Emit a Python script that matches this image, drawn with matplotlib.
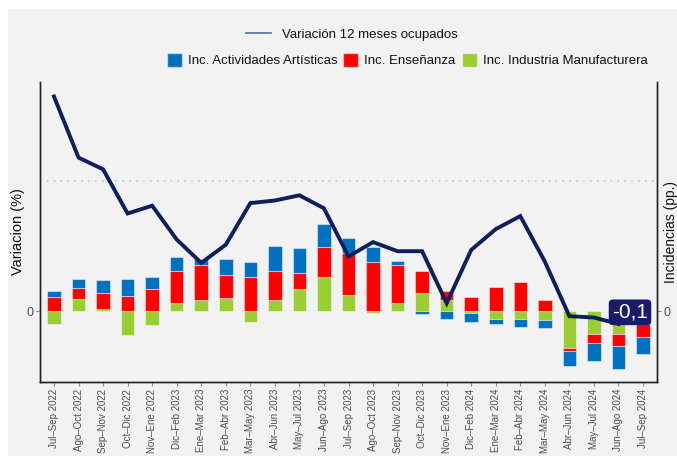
import numpy as np
import matplotlib
matplotlib.use("Agg")
import matplotlib.pyplot as plt
from matplotlib.patches import Patch, Rectangle
from matplotlib.lines import Line2D

plt.rcParams['font.family'] = ['Liberation Sans', 'DejaVu Sans']

categories = ["Jul–Sep 2022", "Ago–Oct 2022", "Sep–Nov 2022", "Oct–Dic 2022", "Nov–Ene 2022",
              "Dic–Feb 2023", "Ene–Mar 2023", "Feb–Abr 2023", "Mar–May 2023", "Abr–Jun 2023",
              "May–Jul 2023", "Jun–Ago 2023", "Jul–Sep 2023", "Ago–Oct 2023", "Sep–Nov 2023",
              "Oct–Dic 2023", "Nov–Ene 2023", "Dic–Feb 2024", "Ene–Mar 2024", "Feb–Abr 2024",
              "Mar–May 2024", "Abr–Jun 2024", "May–Jul 2024", "Jun–Ago 2024", "Jul–Sep 2024"]

# Variación 12 meses ocupados (%), last value -0,1 (Jun–Ago 2024)
variacion = [1.65, 1.18, 1.09, 0.75, 0.81, 0.55, 0.37, 0.51, 0.83, 0.85, 0.89, 0.79,
             0.42, 0.53, 0.46, 0.46, 0.06, 0.47, 0.63, 0.73, 0.38, -0.04, -0.05, -0.10]

# Incidencias (pp.)
inc_artisticas = [0.060, 0.083, 0.130, 0.163, 0.120, 0.143, 0.057, 0.157, 0.153, 0.250,
                  0.243, 0.227, 0.150, 0.150, 0.040, -0.033, -0.083, -0.087, -0.053, -0.073,
                  -0.077, -0.147, -0.183, -0.230, -0.177]
inc_ensenanza = [0.140, 0.117, 0.163, 0.153, 0.223, 0.320, 0.350, 0.227, 0.337, 0.283,
                 0.167, 0.303, 0.420, 0.490, 0.380, 0.220, 0.090, 0.140, 0.240, 0.290,
                 0.113, -0.033, -0.083, -0.120, -0.127]
inc_manufactura = [-0.127, 0.117, 0.017, -0.240, -0.140, 0.077, 0.110, 0.133, -0.107, 0.113,
                   0.217, 0.340, 0.157, -0.015, 0.080, 0.180, 0.110, -0.020, -0.080, -0.083,
                   -0.090, -0.367, -0.233, -0.230, -0.130]

reference_level = 1.0
label_text = "-0,1"

C_BLUE = "#0070c0"
C_RED = "#ff0000"
C_GREEN = "#9acd32"
C_LINE = "#0d1f5c"
BG = "#f2f2f2"

W, H = 677, 459
fig = plt.figure(figsize=(W / 100, H / 100), dpi=100, facecolor="white")
fig.patches.append(Rectangle((8 / W, 3 / H), 1 - 8 / W, 1 - 12 / H, transform=fig.transFigure,
                             facecolor=BG, edgecolor="none", zorder=0))

left, right, top, bottom = 40, 657, 82, 382
ax = fig.add_axes([left / W, 1 - bottom / H, (right - left) / W, (bottom - top) / H])
ax2 = ax.twinx()
ax.set_zorder(2)
ax2.set_zorder(1)
ax.patch.set_visible(False)
ax2.patch.set_facecolor(BG)

x = np.arange(len(categories))

# stacked bars (green nearest zero, then red, then blue) on right axis
series = [(inc_manufactura, C_GREEN), (inc_ensenanza, C_RED), (inc_artisticas, C_BLUE)]
pos_base = np.zeros(len(categories))
neg_base = np.zeros(len(categories))
for vals, col in series:
    v = np.array(vals)
    b = np.where(v >= 0, pos_base, neg_base)
    ax2.bar(x, v, bottom=b, width=0.55, color=col, edgecolor=(1, 1, 1, 0.45), linewidth=0.8, zorder=2)
    pos_base = pos_base + np.where(v >= 0, v, 0)
    neg_base = neg_base + np.where(v < 0, v, 0)

# line on left axis
ax.axhline(reference_level, color="#bdbdbd", linestyle=(0, (1, 3.5)), linewidth=1.1, zorder=1)
xl = np.arange(len(variacion))
ax.plot(xl, variacion, color=C_LINE, linewidth=2.8, solid_joinstyle="miter", zorder=3)
ax.text(xl[-1] + 0.47, variacion[-1] + 0.09, label_text, color="white", fontsize=15,
        ha="center", va="center", zorder=5,
        bbox=dict(boxstyle="round,pad=0.16,rounding_size=0.2", facecolor="#1a1a6b", edgecolor="none"))

# scales
ax.set_xlim(-0.57, len(categories) - 1 + 0.57)
ax.set_ylim(-(bottom - 311) / 130, (311 - top) / 130)
ax2.set_ylim(-(bottom - 311) / 100, (311 - top) / 100)
ax.set_yticks([0])
ax2.set_yticks([0])
ax.set_yticklabels(["0"])
ax2.set_yticklabels(["0"])
ax.set_xticks(x)
ax.set_xticklabels(categories, rotation=90, fontsize=7.0, color="#4d4d4d")
for a in (ax, ax2):
    a.tick_params(axis="y", labelsize=9, labelcolor="#4d4d4d", color="#888888", length=3, pad=2)
ax.tick_params(axis="x", color="#888888", length=3, pad=2)

for a in (ax, ax2):
    a.spines["top"].set_visible(False)
    for s in ("left", "right", "bottom"):
        a.spines[s].set_color("#222222")
        a.spines[s].set_linewidth(1.0)

ax.set_ylabel("Variacion (%)", fontsize=10.5, color="#111111")
ax.yaxis.set_label_coords(-15 / (right - left), 0.5)
ax2.set_ylabel("Incidencias (pp.)", fontsize=10, color="#111111", rotation=90)
ax2.yaxis.set_label_coords((664 - left) / (right - left), 0.5)

# legends
h1 = [Line2D([0], [0], color="#4a6fb0", linewidth=1.2)]
leg1 = fig.legend(h1, ["Variación 12 meses ocupados"], loc="center", bbox_to_anchor=(352 / W, 1 - 35 / H),
                  frameon=False, fontsize=9.5, handlelength=1.9, handletextpad=0.8)
h2 = [Patch(facecolor=C_BLUE, edgecolor=(1, 1, 1, 0.5)), Patch(facecolor=C_RED, edgecolor=(1, 1, 1, 0.5)),
      Patch(facecolor=C_GREEN, edgecolor=(1, 1, 1, 0.5))]
leg2 = fig.legend(h2, ["Inc. Actividades Artísticas", "Inc. Enseñanza", "Inc. Industria Manufacturera"],
                  loc="center", bbox_to_anchor=(407 / W, 1 - 60 / H), ncol=3, frameon=False, fontsize=9.5,
                  handlelength=1.15, handleheight=1.3, handletextpad=0.45, columnspacing=0.45)
for lg in (leg1, leg2):
    for t in lg.get_texts():
        t.set_color("#111111")

fig.savefig("out.png", dpi=100, facecolor="white")
